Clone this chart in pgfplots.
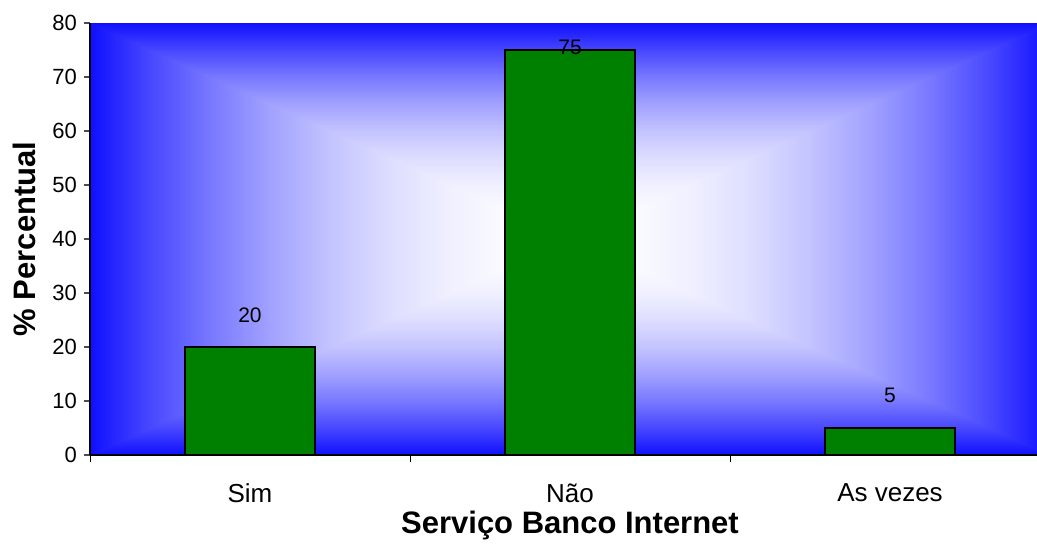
\documentclass[border=0pt]{standalone}
\usepackage{fontspec}
\setmainfont{Liberation Sans}
\usepackage{pgfplots}
\pgfplotsset{compat=1.18}
\usepackage{pgfplotstable}
\definecolor{bargreen}{RGB}{0,128,0}

\pgfdeclareverticalshading{vbox}{100bp}{%
rgb(0bp)=(0.06,0.06,1); rgb(25bp)=(0.06,0.06,1);
rgb(28.125bp)=(0.28,0.28,1); rgb(31.25bp)=(0.471,0.471,1);
rgb(34.375bp)=(0.633,0.633,1); rgb(37.5bp)=(0.765,0.765,1);
rgb(40.625bp)=(0.868,0.868,1); rgb(43.75bp)=(0.941,0.941,1);
rgb(46.875bp)=(0.985,0.985,1); rgb(50bp)=(1,1,1);
rgb(53.125bp)=(0.985,0.985,1); rgb(56.25bp)=(0.941,0.941,1);
rgb(59.375bp)=(0.868,0.868,1); rgb(62.5bp)=(0.765,0.765,1);
rgb(65.625bp)=(0.633,0.633,1); rgb(68.75bp)=(0.471,0.471,1);
rgb(71.875bp)=(0.28,0.28,1); rgb(75bp)=(0.06,0.06,1);
rgb(100bp)=(0.06,0.06,1)}
\pgfdeclarehorizontalshading{hbox}{100bp}{%
rgb(0bp)=(0.06,0.06,1); rgb(25bp)=(0.06,0.06,1);
rgb(28.125bp)=(0.28,0.28,1); rgb(31.25bp)=(0.471,0.471,1);
rgb(34.375bp)=(0.633,0.633,1); rgb(37.5bp)=(0.765,0.765,1);
rgb(40.625bp)=(0.868,0.868,1); rgb(43.75bp)=(0.941,0.941,1);
rgb(46.875bp)=(0.985,0.985,1); rgb(50bp)=(1,1,1);
rgb(53.125bp)=(0.985,0.985,1); rgb(56.25bp)=(0.941,0.941,1);
rgb(59.375bp)=(0.868,0.868,1); rgb(62.5bp)=(0.765,0.765,1);
rgb(65.625bp)=(0.633,0.633,1); rgb(68.75bp)=(0.471,0.471,1);
rgb(71.875bp)=(0.28,0.28,1); rgb(75bp)=(0.06,0.06,1);
rgb(100bp)=(0.06,0.06,1)}

\pgfplotstableread{
x y
0 20
1 75
2 5
}\bardata
\pgfplotstableread{
x y lab
0 25.9 20
1 75.4 75
2 11.1 5
}\labdata

\begin{document}
\begin{tikzpicture}
\useasboundingbox (0,0) rectangle (518.5pt,273pt);
\begin{axis}[
  at={(45pt,45.5pt)}, anchor=south west,
  scale only axis, width=480pt, height=216pt,
  xmin=-0.5, xmax=2.5, ymin=0, ymax=80,
  axis lines*=left,
  axis line style={black, line width=0.6pt},
  axis on top,
  xtick={0,1,2}, xticklabels={Sim, Não, As vezes},
  major x tick style={draw=none},
  minor xtick={-0.5,0.5,1.5},
  minor x tick style={black, line width=0.5pt},
  minor tick length=3.5pt,
  ytick={0,10,...,80},
  tick align=outside,
  major tick length=3pt,
  y tick style={black!70, line width=0.6pt},
  /pgf/number format/assume math mode=true,
  yticklabel style={font=\fontsize{11}{13}\selectfont},
  xticklabel style={font=\fontsize{13}{15}\selectfont, yshift=-8pt},
  xlabel={Serviço Banco Internet},
  ylabel={\% Percentual},
  xlabel style={font=\bfseries\fontsize{15.5}{18}\selectfont, at={(rel axis cs:0.5,0)}, anchor=base, yshift=-39pt},
  ylabel style={font=\bfseries\fontsize{15.5}{18}\selectfont, at={(axis description cs:-0.06875,0.5)}, anchor=center},
]
\shade[shading=vbox] (axis cs:-0.5,0) rectangle (axis cs:2.5,80);
\begin{scope}
\clip (axis cs:-0.5,0) -- (axis cs:1,40) -- (axis cs:-0.5,80) -- cycle
      (axis cs:2.5,0) -- (axis cs:1,40) -- (axis cs:2.5,80) -- cycle;
\shade[shading=hbox] (axis cs:-0.5,0) rectangle (axis cs:2.5,80);
\end{scope}
\addplot[ybar, bar width=0.406, fill=bargreen, draw=black, line width=0.8pt] table[x=x,y=y]{\bardata};
\addplot[draw=none, mark=none, nodes near coords, point meta=explicit symbolic,
  every node near coord/.append style={anchor=center, font=\fontsize{10.5}{12}\selectfont, black}]
  table[x=x,y=y,meta=lab]{\labdata};
\end{axis}
\end{tikzpicture}
\end{document}
